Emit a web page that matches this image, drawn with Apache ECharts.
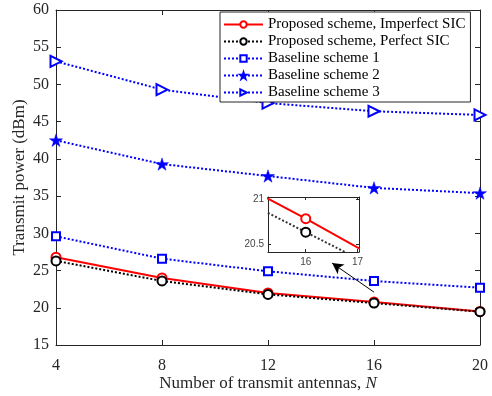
<!DOCTYPE html>
<html>
<head>
<meta charset="utf-8">
<script src="https://cdn.jsdelivr.net/npm/echarts@6/dist/echarts.min.js"></script>
<style>
  html, body { margin: 0; padding: 0; background: #fff; }
  #chart { width: 492px; height: 396px; }
</style>
</head>
<body>
<div id="chart"></div>
<script>
// Number of transmit antennas N
const antennas = [4, 8, 12, 16, 20];
// Transmit power (dBm) for each scheme
const proposedImperfect = [26.8, 24.0, 22.0, 20.78, 19.5];
const proposedPerfect   = [26.3, 23.6, 21.8, 20.63, 19.47];
const baseline1 = [29.6, 26.6, 24.9, 23.6, 22.7];
const baseline2 = [42.5, 39.3, 37.7, 36.1, 35.4];
const baseline3 = [53.1, 49.3, 47.5, 46.4, 45.9];

const seriesNames = [
  'Proposed scheme, Imperfect SIC',
  'Proposed scheme, Perfect SIC',
  'Baseline scheme 1',
  'Baseline scheme 2',
  'Baseline scheme 3'
];
const yTicks = [15, 20, 25, 30, 35, 40, 45, 50, 55, 60];
const insetXTicks = [16, 17];
const insetYTicks = [20.5, 21];
// Zoom-in arrow annotation: from the curves at N = 16 towards the inset box
const arrowFrom = [16, 22.1];
const arrowTo = [14.42, 26.0];

const pairs = ys => antennas.map((x, i) => [x, ys[i]]);

const serif = 'Liberation Serif, Times New Roman, serif';
const sans = 'Liberation Sans, Arial, sans-serif';
const axisColor = '#262626';
const starPath = 'path://M50 0 L61.23 34.55 L97.55 34.55 L68.16 55.9 L79.39 90.45 L50 69.1 L20.61 90.45 L31.84 55.9 L2.45 34.55 L38.77 34.55 Z';

const boxAxis = (extra) => Object.assign({
  nameMoveOverlap: false,
  axisLine: { show: true, onZero: false, lineStyle: { color: axisColor, width: 1 } },
  axisTick: { show: true, inside: true, length: 5, lineStyle: { color: axisColor } },
  splitLine: { show: false }
}, extra);

const insetTicks = (values) => ({
  show: true, inside: true, length: 3, customValues: values, lineStyle: { color: axisColor }
});

const blueDots = { color: '#0000ff', width: 2, type: [2, 2] };

const chart = echarts.init(document.getElementById('chart'), null, { renderer: 'canvas' });

chart.setOption({
  animation: false,
  backgroundColor: '#fff',
  grid: [
    { left: 56, right: 12, top: 10, bottom: 51, outerBoundsMode: 'none', containLabel: false },
    { left: 268, top: 197, width: 91, height: 55, outerBoundsMode: 'none', containLabel: false,
      show: true, backgroundColor: '#fff', borderWidth: 0 }
  ],
  xAxis: [
    boxAxis({
      gridIndex: 0, type: 'value', position: 'bottom', min: 4, max: 20, interval: 4,
      axisLabel: { color: axisColor, fontFamily: serif, fontSize: 16, margin: 13 },
      name: '{a|Number of transmit antennas, }{b|N}',
      nameLocation: 'middle', nameGap: 30,
      nameTextStyle: {
        rich: {
          a: { fontFamily: serif, fontSize: 17, color: axisColor },
          b: { fontFamily: serif, fontSize: 17, color: axisColor, fontStyle: 'italic' }
        }
      }
    }),
    boxAxis({
      gridIndex: 0, type: 'value', position: 'top', min: 4, max: 20, interval: 4,
      axisLabel: { show: false }
    }),
    boxAxis({
      gridIndex: 1, type: 'value', position: 'bottom', min: 15.27, max: 17.03,
      axisTick: insetTicks(insetXTicks),
      axisLabel: { customValues: insetXTicks, color: '#444', fontFamily: sans, fontSize: 10, margin: 5 }
    }),
    boxAxis({
      gridIndex: 1, type: 'value', position: 'top', min: 15.27, max: 17.03,
      axisTick: insetTicks(insetXTicks),
      axisLabel: { show: false }
    })
  ],
  yAxis: [
    boxAxis({
      gridIndex: 0, type: 'value', position: 'left', min: 15, max: 60, interval: 5,
      axisLabel: { color: axisColor, fontFamily: serif, fontSize: 16, margin: 7,
        customValues: yTicks },
      name: 'Transmit power (dBm)',
      nameLocation: 'middle', nameGap: 28,
      nameTextStyle: { fontFamily: serif, fontSize: 17, color: axisColor }
    }),
    boxAxis({
      gridIndex: 0, type: 'value', position: 'right', min: 15, max: 60, interval: 5,
      axisLabel: { show: false }
    }),
    boxAxis({
      gridIndex: 1, type: 'value', position: 'left', min: 20.41, max: 21.02,
      axisTick: insetTicks(insetYTicks),
      axisLabel: { customValues: insetYTicks, color: '#444', fontFamily: sans, fontSize: 10, margin: 4 }
    }),
    boxAxis({
      gridIndex: 1, type: 'value', position: 'right', min: 20.41, max: 21.02,
      axisTick: insetTicks(insetYTicks),
      axisLabel: { show: false }
    })
  ],
  legend: {
    data: seriesNames,
    orient: 'vertical',
    left: 220, top: 12,
    padding: [5, 5, 2, 3],
    itemWidth: 39, itemHeight: 8, itemGap: 2,
    backgroundColor: '#fff',
    borderColor: axisColor, borderWidth: 1, borderRadius: 0,
    textStyle: { fontFamily: serif, fontSize: 15, color: '#000', lineHeight: 15 }
  },
  series: [
    {
      name: seriesNames[0], type: 'line', xAxisIndex: 0, yAxisIndex: 0,
      data: pairs(proposedImperfect), z: 5,
      symbol: 'emptyCircle', symbolSize: 9,
      lineStyle: { color: '#ff0000', width: 2 },
      itemStyle: { color: '#ff0000', borderColor: '#ff0000', borderWidth: 1.6 },
      markLine: {
        silent: true, animation: false,
        symbol: ['none', 'arrow'], symbolSize: [9, 11],
        lineStyle: { color: '#000', width: 1, type: 'solid' },
        label: { show: false },
        data: [[{ coord: arrowFrom }, { coord: arrowTo }]]
      }
    },
    {
      name: seriesNames[1], type: 'line', xAxisIndex: 0, yAxisIndex: 0,
      data: pairs(proposedPerfect), z: 6,
      symbol: 'emptyCircle', symbolSize: 9,
      lineStyle: { color: '#000', width: 2, type: [2, 2] },
      itemStyle: { color: '#000', borderColor: '#000', borderWidth: 1.6 }
    },
    {
      name: seriesNames[2], type: 'line', xAxisIndex: 0, yAxisIndex: 0,
      data: pairs(baseline1),
      symbol: 'emptyRect', symbolSize: 8,
      lineStyle: blueDots,
      itemStyle: { color: '#0000ff', borderColor: '#0000ff', borderWidth: 1.6 }
    },
    {
      name: seriesNames[3], type: 'line', xAxisIndex: 0, yAxisIndex: 0,
      data: pairs(baseline2),
      symbol: starPath, symbolSize: 13, symbolKeepAspect: true,
      lineStyle: blueDots,
      itemStyle: { color: '#0000ff', borderColor: '#0000ff', borderWidth: 0.5 }
    },
    {
      name: seriesNames[4], type: 'line', xAxisIndex: 0, yAxisIndex: 0,
      data: pairs(baseline3),
      symbol: 'emptyTriangle', symbolSize: 11, symbolRotate: -90,
      lineStyle: blueDots,
      itemStyle: { color: '#0000ff', borderColor: '#0000ff', borderWidth: 1.6 }
    },
    // Magnified view around N = 16
    {
      name: 'zoomImperfect', type: 'line', xAxisIndex: 2, yAxisIndex: 2,
      data: pairs(proposedImperfect), clip: true,
      symbol: 'emptyCircle', symbolSize: 9,
      lineStyle: { color: '#ff0000', width: 2 },
      itemStyle: { color: '#ff0000', borderColor: '#ff0000', borderWidth: 1.6 }
    },
    {
      name: 'zoomPerfect', type: 'line', xAxisIndex: 2, yAxisIndex: 2,
      data: pairs(proposedPerfect), clip: true,
      symbol: 'emptyCircle', symbolSize: 9,
      lineStyle: { color: '#333', width: 2, type: [2, 2] },
      itemStyle: { color: '#000', borderColor: '#333', borderWidth: 1.6 }
    }
  ]
});
</script>
</body>
</html>
